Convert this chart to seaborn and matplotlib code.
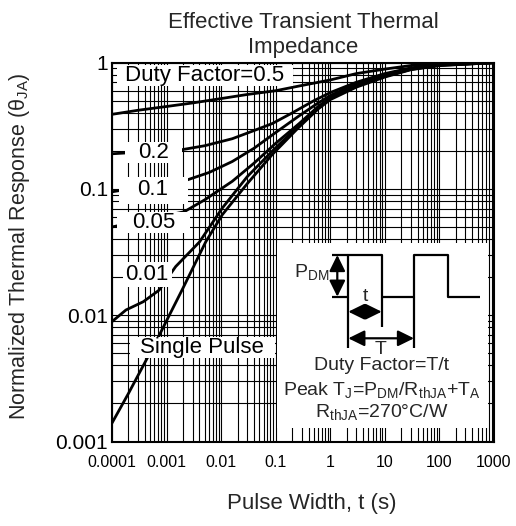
import numpy as np
import pandas as pd
import matplotlib
matplotlib.use("Agg")
import matplotlib.pyplot as plt
import matplotlib.ticker as mticker
from matplotlib.patches import Rectangle, FancyArrowPatch
import seaborn as sns

# ---------------- data ----------------
t_d50 = [1e-4, 3e-4, 1e-3, 3e-3, 1e-2, 3e-2, 0.1, 0.3, 1, 3, 10, 30, 100, 300, 1000]
z_d50 = [0.39, 0.42, 0.45, 0.48, 0.52, 0.56, 0.60, 0.66, 0.73, 0.82, 0.89, 0.95, 0.98, 0.99, 1.0]

t_d20 = [1e-4, 1.95e-3, 5e-3, 0.016, 0.04, 0.087, 0.2, 0.5, 1, 3, 10, 30, 100, 1000]
z_d20 = [0.19, 0.205, 0.22, 0.25, 0.29, 0.33, 0.40, 0.50, 0.58, 0.70, 0.82, 0.91, 0.97, 1.0]

t_d10 = [1e-4, 2.4e-3, 6e-3, 0.016, 0.04, 0.1, 0.27, 0.6, 1, 3, 10, 30, 100, 1000]
z_d10 = [0.095, 0.118, 0.135, 0.165, 0.21, 0.28, 0.38, 0.48, 0.55, 0.68, 0.80, 0.90, 0.96, 1.0]

t_d05 = [1e-4, 2.1e-3, 5e-3, 0.016, 0.04, 0.1, 0.27, 0.6, 1, 3, 10, 30, 100, 1000]
z_d05 = [0.05, 0.066, 0.082, 0.115, 0.16, 0.23, 0.33, 0.45, 0.53, 0.66, 0.78, 0.89, 0.96, 1.0]

t_d01 = [1e-4, 1.8e-4, 3.75e-4, 7.3e-4, 1.47e-3, 4e-3, 0.0105, 0.03, 0.087, 0.25, 0.6, 1, 3, 10, 30, 100, 1000]
z_d01 = [0.0089, 0.011, 0.0128, 0.0158, 0.0243, 0.038, 0.0706, 0.125, 0.20, 0.31, 0.44, 0.52, 0.65, 0.78, 0.885, 0.95, 1.0]

t_sp = [1e-4, 2e-4, 4.1e-4, 6.8e-4, 2.0e-3, 5.2e-3, 0.0105, 0.03, 0.087, 0.25, 0.6, 1, 3, 10, 30, 100, 1000]
z_sp = [0.0014, 0.0024, 0.0043, 0.0065, 0.0164, 0.038, 0.0625, 0.11, 0.188, 0.30, 0.43, 0.51, 0.64, 0.77, 0.88, 0.95, 1.0]

curve_names = ["0.5", "0.2", "0.1", "0.05", "0.01", "Single Pulse"]
x_ticks = [1e-4, 1e-3, 1e-2, 1e-1, 1, 10, 100, 1000]
x_ticklabels = ["0.0001", "0.001", "0.01", "0.1", "1", "10", "100", "1000"]
y_ticks = [1e-3, 1e-2, 1e-1, 1]
y_ticklabels = ["0.001", "0.01", "0.1", "1"]

frames = []
for name, t, z in zip(curve_names,
                      [t_d50, t_d20, t_d10, t_d05, t_d01, t_sp],
                      [z_d50, z_d20, z_d10, z_d05, z_d01, z_sp]):
    frames.append(pd.DataFrame({"t": t, "z": z, "curve": name}))
df = pd.concat(frames, ignore_index=True)

# ---------------- style ----------------
sns.set_theme(style="white")
plt.rcParams["font.family"] = ["Liberation Sans", "DejaVu Sans"]
plt.rcParams["mathtext.fontset"] = "custom"
plt.rcParams["mathtext.rm"] = "Liberation Sans"
plt.rcParams["mathtext.it"] = "Liberation Sans:italic"
plt.rcParams["mathtext.bf"] = "Liberation Sans:bold"

W, H = 516, 526
fig = plt.figure(figsize=(W / 100, H / 100), dpi=100)
fig.patch.set_facecolor("white")


def fx(px):
    return px / W


def fy(py):
    return 1 - py / H


AX_L, AX_R, AX_T, AX_B = 112, 494, 62.7, 441.5
ax = fig.add_axes([fx(AX_L), fy(AX_B), (AX_R - AX_L) / W, (AX_B - AX_T) / H])
ax.set_facecolor("white")

sns.lineplot(data=df, x="t", y="z", units="curve", estimator=None, sort=False,
             color="black", linewidth=2.0, ax=ax, legend=False, zorder=3)

ax.set_xscale("log")
ax.set_yscale("log")
ax.set_xlim(1e-4, 1e3)
ax.set_ylim(1e-3, 1)
ax.xaxis.set_major_locator(mticker.FixedLocator(x_ticks))
ax.xaxis.set_major_formatter(mticker.FixedFormatter(x_ticklabels))
ax.yaxis.set_major_locator(mticker.FixedLocator(y_ticks))
ax.yaxis.set_major_formatter(mticker.FixedFormatter(y_ticklabels))
ax.xaxis.set_minor_locator(mticker.LogLocator(base=10, subs=np.arange(2, 10), numticks=100))
ax.yaxis.set_minor_locator(mticker.LogLocator(base=10, subs=np.arange(2, 10), numticks=100))
ax.xaxis.set_minor_formatter(mticker.NullFormatter())
ax.yaxis.set_minor_formatter(mticker.NullFormatter())
ax.grid(True, which="both", color="black", linewidth=0.8)
ax.set_axisbelow(True)
ax.tick_params(which="both", length=0)
ax.tick_params(axis="x", labelsize=11.5, pad=10, colors="black")
ax.tick_params(axis="y", labelsize=15, pad=3, colors="black")
ax.set_xlabel("")
ax.set_ylabel("")
for s in ax.spines.values():
    s.set_color("black")
    s.set_linewidth(1.5)
    s.set_zorder(10)

# label boxes (white, hiding grid and curves)
labels = [
    ("Duty Factor=0.5", (117, 65, 293, 86), (205, 75.5)),
    ("0.2", (125, 142, 182, 163), (154, 152.5)),
    ("0.1", (119, 177, 188, 204), (153, 189.5)),
    ("0.05", (117, 212, 190, 233), (154, 222.5)),
    ("0.01", (123, 262, 172, 287), (147, 275)),
    ("Single Pulse", (130, 337, 275, 358), (202, 348)),
]
for txt, (x0, y0, x1, y1), (cx, cy) in labels:
    ax.add_patch(Rectangle((fx(x0), fy(y1)), (x1 - x0) / W, (y1 - y0) / H,
                           transform=fig.transFigure, facecolor="white",
                           edgecolor="none", zorder=5))
    ax.text(fx(cx), fy(cy), txt, transform=fig.transFigure, ha="center",
            va="center", fontsize=16, color="black", zorder=6)

# titles and axis labels
fig.text(fx(303), fy(22), "Effective Transient Thermal", ha="center", va="center", fontsize=16)
fig.text(fx(303), fy(47), "Impedance", ha="center", va="center", fontsize=16)
fig.text(fx(20), fy(246), "Normalized Thermal Response (θ$_{\\mathrm{JA}}$)",
         rotation=90, ha="center", va="center", fontsize=15.5)
fig.text(fx(312), fy(503), "Pulse Width, t (s)", ha="center", va="center", fontsize=16)

# ---------------- inset diagram ----------------
IX0, IX1, IY0, IY1 = 277, 488, 243, 428
axi = fig.add_axes([fx(IX0), fy(IY1), (IX1 - IX0) / W, (IY1 - IY0) / H])
axi.set_xlim(IX0, IX1)
axi.set_ylim(IY1, IY0)
axi.set_facecolor("white")
axi.set_xticks([])
axi.set_yticks([])
for s in axi.spines.values():
    s.set_visible(False)

hi, lo = 255, 296.7
wx = [331.7, 348.3, 348.3, 381.7, 381.7, 414, 414, 448.3, 448.3, 480]
wy = [lo, lo, hi, hi, lo, lo, hi, hi, lo, lo]
lk = dict(color="black", linewidth=1.6, solid_capstyle="butt")
axi.plot(wx, wy, **lk)
axi.plot([331.7, 348.3], [hi, hi], **lk)
axi.plot([348.3, 348.3], [lo, 348.3], **lk)
axi.plot([381.7, 381.7], [lo, 326.7], **lk)
axi.plot([414, 414], [lo, 348.3], **lk)


def darrow(p0, p1):
    axi.add_patch(FancyArrowPatch(p0, p1, arrowstyle="<|-|>,head_length=0.65,head_width=0.32",
                                  mutation_scale=15, color="black", linewidth=1.6,
                                  shrinkA=0, shrinkB=0))


darrow((337.3, hi), (337.3, lo))
darrow((348.3, 311.7), (381.7, 311.7))
darrow((348.3, 338.3), (414, 338.3))

axi.text(329, 272, "P$_{\\mathrm{DM}}$", ha="right", va="center", fontsize=14)
axi.text(365, 297, "t", ha="center", va="center", fontsize=14)
axi.text(381, 350, "T", ha="center", va="center", fontsize=14)
axi.text(382, 365.5, "Duty Factor=T/t", ha="center", va="center", fontsize=14)
axi.text(382, 390, "Peak T$_{\\mathrm{J}}$=P$_{\\mathrm{DM}}$/R$_{\\mathrm{thJA}}$+T$_{\\mathrm{A}}$",
         ha="center", va="center", fontsize=14)
axi.text(382, 412, "R$_{\\mathrm{thJA}}$=270°C/W", ha="center", va="center", fontsize=14)

fig.savefig("out.png", dpi=100, facecolor="white")
